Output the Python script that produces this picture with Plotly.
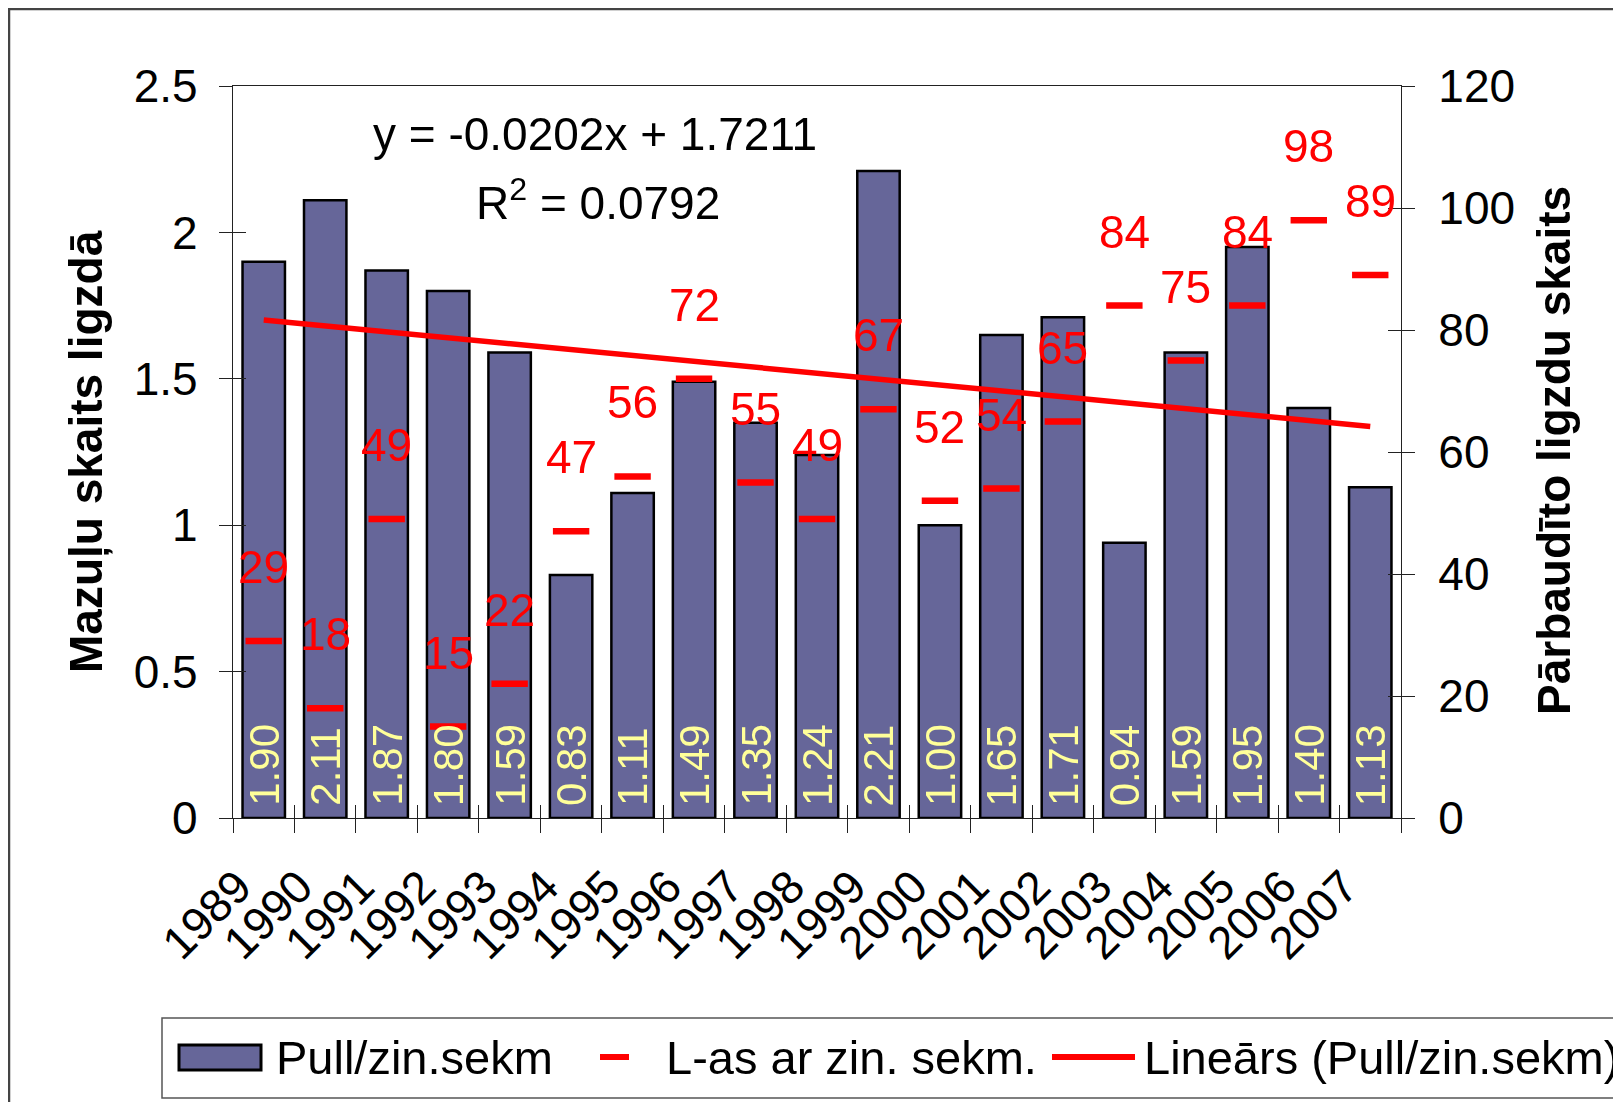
import plotly.graph_objects as go

# ---------------- data ----------------
years = ["1989", "1990", "1991", "1992", "1993", "1994", "1995", "1996", "1997", "1998",
         "1999", "2000", "2001", "2002", "2003", "2004", "2005", "2006", "2007"]
chicks_per_nest = [1.90, 2.11, 1.87, 1.80, 1.59, 0.83, 1.11, 1.49, 1.35, 1.24,
                   2.21, 1.00, 1.65, 1.71, 0.94, 1.59, 1.95, 1.40, 1.13]
nests_checked = [29, 18, 49, 15, 22, 47, 56, 72, 55, 49,
                 67, 52, 54, 65, 84, 75, 84, 98, 89]
left_ticks = [0, 0.5, 1, 1.5, 2, 2.5]
left_tick_text = ["0", "0.5", "1", "1.5", "2", "2.5"]
right_ticks = [0, 20, 40, 60, 80, 100, 120]

# linear trend as printed on the chart (x = 1..n)
trend_slope = -0.0202
trend_intercept = 1.7211
trend_r2 = 0.0792

name_bars = "Pull/zin.sekm"
name_marks = "L-as ar zin. sekm."
name_trend = "Lineārs (Pull/zin.sekm)"
title_left = "Mazuļu skaits ligzdā"
title_right = "Pārbaudīto ligzdu skaits"

trend = [trend_slope * (i + 1) + trend_intercept for i in range(len(years))]
eq_text = f"y = {trend_slope:.4f}x + {trend_intercept:.4f}"
r2_text = f"R<sup>2</sup> = {trend_r2:.4f}"

# ---------------- geometry ----------------
OFF = 8                       # page body margin
W, H = 1621 - OFF, 1102 - OFF
L, R, T, B = 233 - OFF, 1401 - OFF, 86 - OFF, 818 - OFF
FONT = "Liberation Sans, Arial, sans-serif"


def px_x(p):                  # page pixel -> paper x
    return (p - OFF - L) / (R - L)


def px_y(p):                  # page pixel -> paper y
    return (B - (p - OFF)) / (B - T)


fig = go.Figure()

fig.add_trace(go.Bar(
    x=years, y=chicks_per_nest, name=name_bars,
    marker=dict(color="#666699", line=dict(color="black", width=2.5)),
    width=0.69, showlegend=False, xaxis="x", yaxis="y",
))

fig.add_trace(go.Scatter(
    x=years, y=trend, mode="lines", name=name_trend,
    line=dict(color="#ff0000", width=5.5), showlegend=False,
    xaxis="x", yaxis="y",
))

fig.add_trace(go.Scatter(
    x=years, y=nests_checked, mode="markers", name=name_marks,
    marker=dict(symbol="line-ew", size=26, line=dict(color="#ff0000", width=6.5)),
    showlegend=False, xaxis="x", yaxis="y2",
))

# invisible helpers so the overlay (crossing-tick) axes render
fig.add_trace(go.Scatter(x=years, y=chicks_per_nest, mode="markers", opacity=0,
                         hoverinfo="skip", showlegend=False, xaxis="x2", yaxis="y3"))
fig.add_trace(go.Scatter(x=years, y=nests_checked, mode="markers", opacity=0,
                         hoverinfo="skip", showlegend=False, xaxis="x2", yaxis="y4"))

axis_col = "#222222"
tickfont = dict(family=FONT, size=46, color="black")

fig.update_layout(
    width=W, height=H,
    margin=dict(l=L, r=W - R, t=T, b=H - B),
    paper_bgcolor="white",
    plot_bgcolor="rgba(0,0,0,0)",
    showlegend=False,
    xaxis=dict(
        type="category", categoryorder="array", categoryarray=years,
        range=[-0.5, len(years) - 0.5],
        tickson="boundaries", ticks="outside", ticklen=14, tickwidth=1, tickcolor=axis_col,
        showline=True, linecolor=axis_col, linewidth=1.2, mirror=True,
        showgrid=False, tickangle=-45, tickfont=tickfont,
        ticklabelstandoff=22, ticklabelshift=-26,
        zeroline=False, anchor="y",
    ),
    xaxis2=dict(
        type="category", categoryorder="array", categoryarray=years,
        range=[-0.5, len(years) - 0.5], overlaying="x", anchor="y",
        tickson="boundaries", ticks="inside", ticklen=13, tickwidth=1, tickcolor=axis_col,
        showticklabels=False, showline=False, showgrid=False, zeroline=False,
    ),
    yaxis=dict(
        range=[0, 2.5], tickvals=left_ticks, ticktext=left_tick_text,
        ticks="outside", ticklen=13, tickwidth=1, tickcolor=axis_col,
        showline=True, linecolor=axis_col, linewidth=1.2,
        showgrid=False, zeroline=False, tickfont=tickfont, ticklabelstandoff=12,
        anchor="x",
    ),
    yaxis3=dict(
        range=[0, 2.5], tickvals=left_ticks, overlaying="y", side="left", anchor="x",
        ticks="inside", ticklen=13, tickwidth=1, tickcolor=axis_col,
        showticklabels=False, showline=False, showgrid=False, zeroline=False,
    ),
    yaxis2=dict(
        range=[0, 120], tickvals=right_ticks, overlaying="y", side="right", anchor="x",
        ticks="outside", ticklen=13, tickwidth=1, tickcolor=axis_col,
        showline=True, linecolor=axis_col, linewidth=1.2,
        showgrid=False, zeroline=False, tickfont=tickfont, ticklabelstandoff=14,
    ),
    yaxis4=dict(
        range=[0, 120], tickvals=right_ticks, overlaying="y", side="right", anchor="x",
        ticks="inside", ticklen=13, tickwidth=1, tickcolor=axis_col,
        showticklabels=False, showline=False, showgrid=False, zeroline=False,
    ),
)

shapes = []
# chart frame border
shapes.append(dict(type="rect", xref="paper", yref="paper", layer="below",
                   x0=px_x(9), x1=px_x(1700), y0=px_y(9), y1=px_y(1200),
                   fillcolor="white", line=dict(color="#444444", width=2.5)))

# legend box (drawn by hand to match the spreadsheet legend)
shapes.append(dict(type="rect", xref="paper", yref="paper",
                   x0=px_x(162), x1=px_x(1700), y0=px_y(1018), y1=px_y(1098),
                   fillcolor="white", line=dict(color="#555555", width=1.5)))
shapes.append(dict(type="rect", xref="paper", yref="paper",
                   x0=px_x(179), x1=px_x(261), y0=px_y(1045), y1=px_y(1070),
                   fillcolor="#666699", line=dict(color="black", width=3)))
shapes.append(dict(type="line", xref="paper", yref="paper",
                   x0=px_x(600), x1=px_x(629), y0=px_y(1057), y1=px_y(1057),
                   line=dict(color="#ff0000", width=6)))
shapes.append(dict(type="line", xref="paper", yref="paper",
                   x0=px_x(1052), x1=px_x(1135), y0=px_y(1057), y1=px_y(1057),
                   line=dict(color="#ff0000", width=6)))

annotations = []
legend_font = dict(family=FONT, size=47, color="black")
for txt, xp in [(name_bars, 274), (name_marks, 664), (name_trend, 1142)]:
    annotations.append(dict(text=txt, xref="paper", yref="paper", x=px_x(xp), y=px_y(1057),
                            xanchor="left", yanchor="middle", showarrow=False, font=legend_font))

# axis titles
annotations.append(dict(text=f"<b>{title_left}</b>", xref="paper", yref="paper",
                        x=px_x(86), y=px_y(452), textangle=-90, showarrow=False,
                        xanchor="center", yanchor="middle",
                        font=dict(family=FONT, size=46, color="black")))
annotations.append(dict(text=f"<b>{title_right}</b>", xref="paper", yref="paper",
                        x=px_x(1554), y=px_y(451), textangle=-90, showarrow=False,
                        xanchor="center", yanchor="middle",
                        font=dict(family=FONT, size=46, color="black")))

# trend equation
annotations.append(dict(text=eq_text, xref="paper", yref="paper", x=px_x(595), y=px_y(134),
                        showarrow=False, xanchor="center", yanchor="middle",
                        font=dict(family=FONT, size=46, color="black")))
annotations.append(dict(text=r2_text, xref="paper", yref="paper", x=px_x(598), y=px_y(200),
                        showarrow=False, xanchor="center", yanchor="middle",
                        font=dict(family=FONT, size=46, color="black")))

# value labels inside bars (yellow, vertical); category axis -> index positions
for i, v in enumerate(chicks_per_nest):
    annotations.append(dict(text=f"{v:.2f}", x=i, y=0, xref="x", yref="y",
                            textangle=-90, showarrow=False, xanchor="center", yanchor="bottom",
                            yshift=10, font=dict(family=FONT, size=42, color="#ffff99")))

# red labels above the nest-count markers
for i, n in enumerate(nests_checked):
    annotations.append(dict(text=str(n), x=i, y=n, xref="x", yref="y2",
                            showarrow=False, xanchor="center", yanchor="middle",
                            yshift=74, font=dict(family=FONT, size=46, color="#ff0000")))

fig.update_layout(shapes=shapes, annotations=annotations)

fig.write_html("out.html")
